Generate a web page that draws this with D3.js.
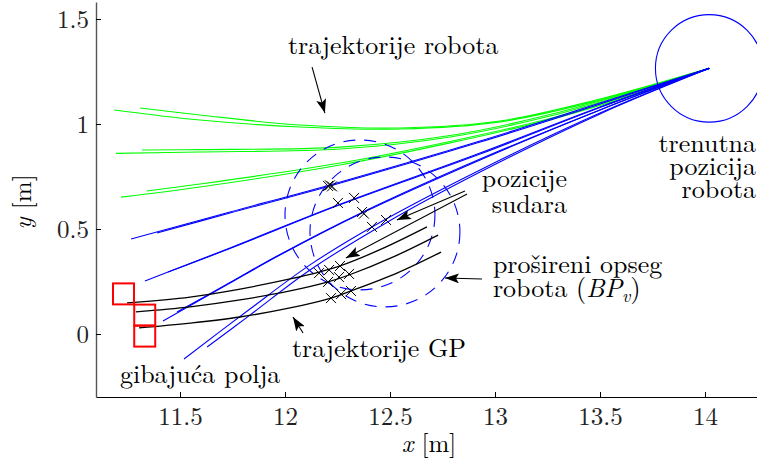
<!DOCTYPE html>
<html>
<head>
<meta charset="utf-8">
<script src="https://cdn.jsdelivr.net/npm/d3@7"></script>
<style>
  html, body { margin: 0; padding: 0; background: #fff; }
  svg { display: block; }
</style>
</head>
<body>
<svg id="chart" width="757" height="461"></svg>
<script>
// ---- data (metres) ----
const xTicks = [11.5, 12, 12.5, 13, 13.5, 14];
const xTickLabels = ["11.5", "12", "12.5", "13", "13.5", "14"];
const yTicks = [0, 0.5, 1, 1.5];
const yTickLabels = ["0", "0.5", "1", "1.5"];

// current robot position and its radius
const robotPos = [14.02, 1.265];
const robotRadius = 0.256;

// predicted robot trajectories (green: collision free, blue: colliding)
const greenTrajectories = [
  [[11.186, 1.067], [11.595, 1.019], [12.071, 0.986], [12.548, 0.976], [13.024, 1.010], [13.500, 1.114], [14.02, 1.265]],
  [[11.310, 1.076], [11.595, 1.043], [12.071, 0.995], [12.548, 0.981], [13.024, 1.014], [13.500, 1.119], [14.02, 1.265]],
  [[11.195, 0.860], [11.595, 0.867], [12.262, 0.881], [12.786, 0.938], [13.262, 1.038], [13.690, 1.162], [14.02, 1.265]],
  [[11.319, 0.876], [11.595, 0.878], [12.262, 0.890], [12.786, 0.945], [13.262, 1.045], [13.690, 1.166], [14.02, 1.265]],
  [[11.219, 0.652], [11.595, 0.700], [12.262, 0.805], [12.786, 0.910], [13.262, 1.021], [13.690, 1.148], [14.02, 1.265]],
  [[11.341, 0.681], [11.595, 0.714], [12.262, 0.814], [12.786, 0.917], [13.262, 1.026], [13.690, 1.152], [14.02, 1.265]]
];
const blueTrajectories = [
  [[11.267, 0.452], [11.738, 0.581], [12.214, 0.710], [12.929, 0.919], [13.500, 1.100], [14.02, 1.265]],
  [[11.390, 0.481], [11.738, 0.576], [12.214, 0.705], [12.929, 0.914], [13.500, 1.095], [14.02, 1.265]],
  [[11.333, 0.252], [11.738, 0.410], [12.252, 0.614], [12.929, 0.862], [13.500, 1.081], [14.02, 1.265]],
  [[11.443, 0.295], [11.738, 0.407], [12.252, 0.612], [12.929, 0.857], [13.500, 1.079], [14.02, 1.265]],
  [[11.419, 0.062], [11.738, 0.243], [11.976, 0.376], [12.367, 0.576], [12.929, 0.829], [13.500, 1.067], [14.02, 1.265]],
  [[11.486, 0.105], [11.738, 0.245], [11.976, 0.379], [12.367, 0.579], [12.929, 0.833], [13.500, 1.067], [14.02, 1.265]],
  [[11.519, -0.119], [11.833, 0.119], [12.119, 0.329], [12.414, 0.510], [12.929, 0.781], [13.500, 1.052], [14.02, 1.265]],
  [[11.629, -0.062], [11.833, 0.090], [12.119, 0.305], [12.481, 0.529], [12.929, 0.771], [13.500, 1.048], [14.02, 1.265]]
];

// predicted trajectories of the moving fields (GP)
const gpTrajectories = [
  [[11.248, 0.148], [11.548, 0.176], [11.786, 0.214], [12.024, 0.262], [12.162, 0.295], [12.262, 0.324], [12.471, 0.410], [12.676, 0.510]],
  [[11.290, 0.105], [11.548, 0.129], [11.786, 0.162], [12.024, 0.205], [12.205, 0.248], [12.305, 0.281], [12.524, 0.371], [12.729, 0.471]],
  [[11.305, 0.029], [11.548, 0.052], [11.786, 0.081], [12.024, 0.124], [12.219, 0.171], [12.314, 0.205], [12.533, 0.290], [12.743, 0.390]]
];

// moving fields: centre of each square, side length 0.1 m
const fieldCentres = [[11.231, 0.191], [11.332, 0.090], [11.332, -0.010]];
const fieldSide = 0.1;

// extended robot range BP_v
const bpCentres = [[12.357, 0.567], [12.476, 0.486]];
const bpRadius = 0.357;

// collision positions
const collisions = [
  [12.205, 0.705], [12.214, 0.708], [12.224, 0.703],
  [12.252, 0.624], [12.329, 0.648],
  [12.367, 0.581], [12.376, 0.573],
  [12.414, 0.510], [12.481, 0.543],
  [12.162, 0.290], [12.210, 0.305], [12.262, 0.324],
  [12.205, 0.248], [12.257, 0.271], [12.305, 0.286],
  [12.219, 0.171], [12.267, 0.190], [12.314, 0.205]
];

// ---- layout ----
const FONT = '"Latin Modern Roman", "Liberation Serif", serif';
const plot = { left: 96, right: 757.5, top: 2, bottom: 397 };
const svg = d3.select("#chart").style("font-family", FONT);

const x = d3.scaleLinear().domain([11.1, 14.25]).range([plot.left, plot.right]);
const y = d3.scaleLinear().domain([-0.3, 1.581]).range([plot.bottom, plot.top]);
const px = d => x(d[0]), py = d => y(d[1]);

const defs = svg.append("defs");
defs.append("marker")
  .attr("id", "head")
  .attr("viewBox", "0 0 14 10")
  .attr("refX", 14).attr("refY", 5)
  .attr("markerWidth", 14).attr("markerHeight", 10)
  .attr("markerUnits", "userSpaceOnUse")
  .attr("orient", "auto")
  .append("path").attr("d", "M0,0 L14,5 L0,10 L3,5 Z").attr("fill", "#000");

const line = d3.line().x(px).y(py).curve(d3.curveCatmullRom.alpha(0.5));

// axes
const xAxis = d3.axisBottom(x).tickValues(xTicks)
  .tickFormat((d, i) => xTickLabels[i]).tickSizeInner(-5).tickSizeOuter(0).tickPadding(10);
const yAxis = d3.axisLeft(y).tickValues(yTicks)
  .tickFormat((d, i) => yTickLabels[i]).tickSizeInner(-5).tickSizeOuter(0).tickPadding(7);

const gx = svg.append("g").attr("transform", `translate(0,${plot.bottom})`).call(xAxis);
const gy = svg.append("g").attr("transform", `translate(${plot.left},0)`).call(yAxis);
[gx, gy].forEach(g => {
  g.attr("font-family", FONT);
  g.selectAll(".tick line").attr("stroke", "#000");
  g.selectAll(".tick text").attr("font-size", 25).attr("fill", "#222");
});
gx.select(".domain").attr("stroke", "#000").attr("stroke-width", 1.2);
gy.select(".domain").attr("stroke", "#555").attr("stroke-width", 1.4);

const marks = svg.append("g");

// green and blue robot trajectories
marks.append("g").selectAll("path").data(greenTrajectories).join("path")
  .attr("d", line).attr("fill", "none").attr("stroke", "#00ff00").attr("stroke-width", 1.1);
marks.append("g").selectAll("path").data(blueTrajectories).join("path")
  .attr("d", line).attr("fill", "none").attr("stroke", "#0000ff").attr("stroke-width", 1.1);

// robot body
marks.append("circle")
  .attr("cx", x(robotPos[0])).attr("cy", y(robotPos[1]))
  .attr("r", x(robotPos[0] + robotRadius) - x(robotPos[0]))
  .attr("fill", "none").attr("stroke", "#0000ff").attr("stroke-width", 1.1);

// extended range BP_v
marks.append("g").selectAll("circle").data(bpCentres).join("circle")
  .attr("cx", px).attr("cy", py)
  .attr("r", x(12 + bpRadius) - x(12))
  .attr("fill", "none").attr("stroke", "#0000ff").attr("stroke-width", 1.1)
  .attr("stroke-dasharray", "12,9");

// GP trajectories
marks.append("g").selectAll("path").data(gpTrajectories).join("path")
  .attr("d", line).attr("fill", "none").attr("stroke", "#000").attr("stroke-width", 1.3);

// moving fields
marks.append("g").selectAll("rect").data(fieldCentres).join("rect")
  .attr("x", d => x(d[0] - fieldSide / 2)).attr("y", d => y(d[1] + fieldSide / 2))
  .attr("width", x(12 + fieldSide) - x(12)).attr("height", y(0) - y(fieldSide))
  .attr("fill", "none").attr("stroke", "#ff0000").attr("stroke-width", 2);

// collision markers
const cs = 5;
marks.append("g").selectAll("path").data(collisions).join("path")
  .attr("d", d => {
    const cx = px(d), cy = py(d);
    return `M${cx - cs},${cy - cs}L${cx + cs},${cy + cs}M${cx - cs},${cy + cs}L${cx + cs},${cy - cs}`;
  })
  .attr("stroke", "#000").attr("stroke-width", 1);

// annotation arrows: [from, to] in metres
const arrows = [
  [[12.129, 1.271], [12.190, 1.052]],
  [[12.857, 0.681], [12.533, 0.543]],
  [[12.867, 0.667], [12.290, 0.362]],
  [[12.938, 0.262], [12.762, 0.267]],
  [[12.086, 0.005], [12.038, 0.081]]
];
svg.append("g").selectAll("line").data(arrows).join("line")
  .attr("x1", d => px(d[0])).attr("y1", d => py(d[0]))
  .attr("x2", d => px(d[1])).attr("y2", d => py(d[1]))
  .attr("stroke", "#000").attr("stroke-width", 1.1)
  .attr("marker-end", "url(#head)");

// annotation texts
const fs = 26;
const labels = svg.append("g").attr("font-size", fs);
function label(t, xm, ym, anchor) {
  return labels.append("text").attr("x", x(xm)).attr("y", y(ym))
    .attr("text-anchor", anchor || "start").text(t);
}
label("trajektorije robota", 12.014, 1.333);
label("trenutna", 14.243, 0.867, "end");
label("pozicija", 14.243, 0.757, "end");
label("robota", 14.243, 0.648, "end");
label("pozicije", 13.343, 0.700, "end");
label("sudara", 13.343, 0.576, "end");
label("prošireni opseg", 12.990, 0.290);
const bp = label("robota (", 12.990, 0.176);
bp.append("tspan").attr("font-style", "italic").text("BP");
bp.append("tspan").attr("font-style", "italic").attr("font-size", fs * 0.7).attr("dy", 5).text("v");
bp.append("tspan").attr("dy", -5).text(")");
label("trajektorije GP", 12.033, -0.110);
label("gibajuća polja", 11.214, -0.233);

// axis titles
const xt = svg.append("text").attr("x", 429).attr("y", 452)
  .attr("text-anchor", "middle").attr("font-size", 25);
xt.append("tspan").attr("font-style", "italic").text("x");
xt.append("tspan").text(" [m]");
const yt = svg.append("text").attr("transform", "translate(31,202) rotate(-90)")
  .attr("text-anchor", "middle").attr("font-size", 25);
yt.append("tspan").attr("font-style", "italic").text("y");
yt.append("tspan").text(" [m]");
</script>
</body>
</html>
